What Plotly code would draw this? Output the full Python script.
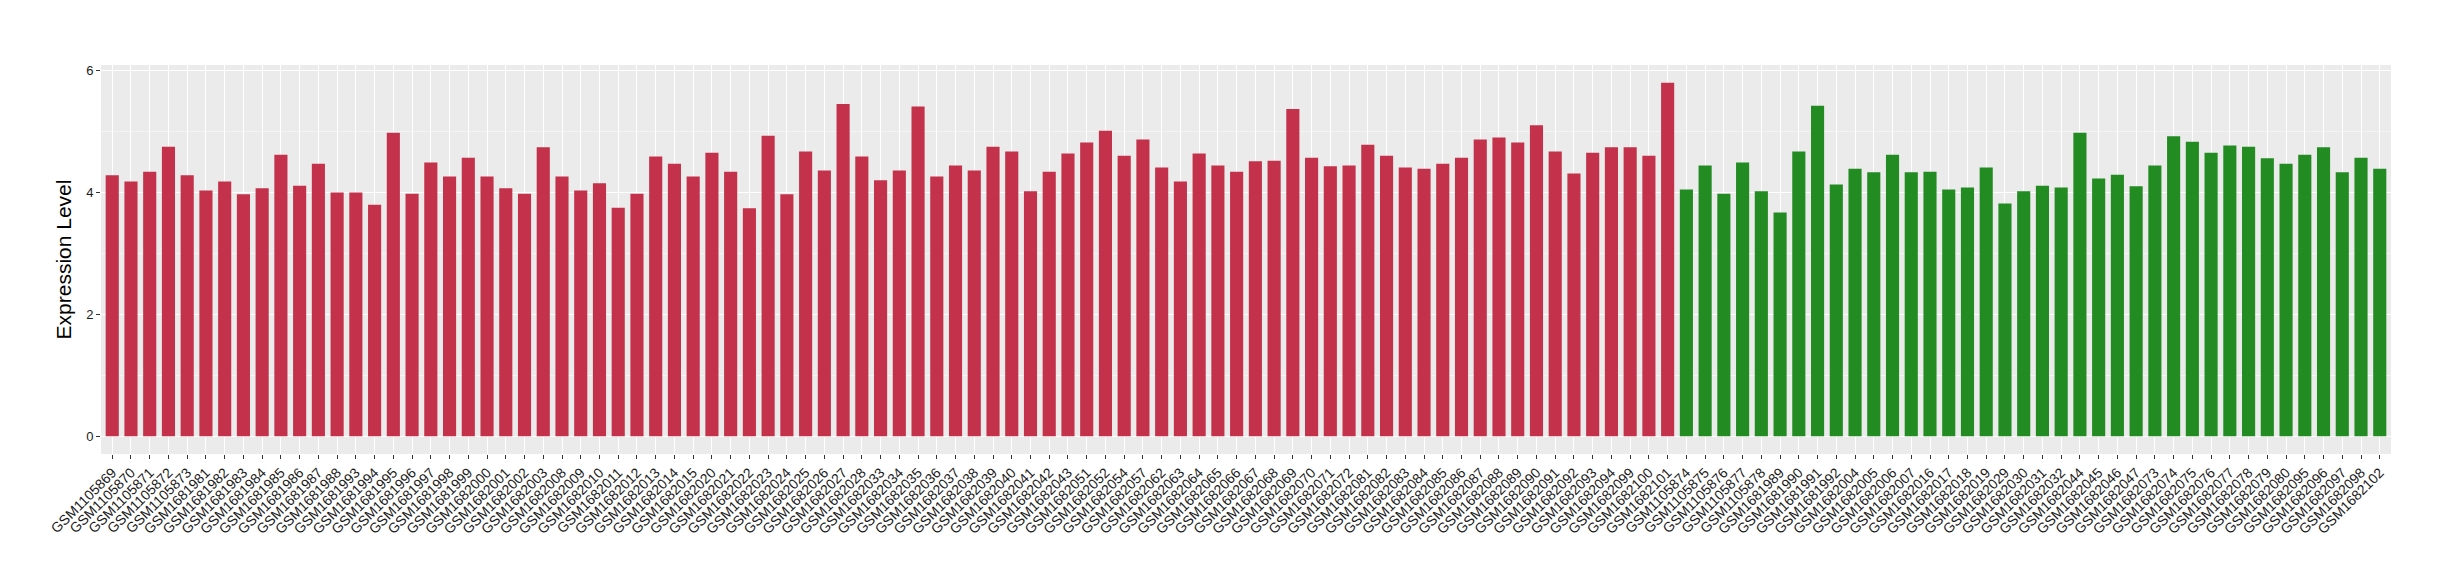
import plotly.graph_objects as go

# Samples of the first group (red) and their expression values
red_samples = [
    "GSM1105869", "GSM1105870", "GSM1105871", "GSM1105872", "GSM1105873",
    "GSM1681981", "GSM1681982", "GSM1681983", "GSM1681984", "GSM1681985",
    "GSM1681986", "GSM1681987", "GSM1681988", "GSM1681993", "GSM1681994",
    "GSM1681995", "GSM1681996", "GSM1681997", "GSM1681998", "GSM1681999",
    "GSM1682000", "GSM1682001", "GSM1682002", "GSM1682003", "GSM1682008",
    "GSM1682009", "GSM1682010", "GSM1682011", "GSM1682012", "GSM1682013",
    "GSM1682014", "GSM1682015", "GSM1682020", "GSM1682021", "GSM1682022",
    "GSM1682023", "GSM1682024", "GSM1682025", "GSM1682026", "GSM1682027",
    "GSM1682028", "GSM1682033", "GSM1682034", "GSM1682035", "GSM1682036",
    "GSM1682037", "GSM1682038", "GSM1682039", "GSM1682040", "GSM1682041",
    "GSM1682042", "GSM1682043", "GSM1682051", "GSM1682052", "GSM1682054",
    "GSM1682057", "GSM1682062", "GSM1682063", "GSM1682064", "GSM1682065",
    "GSM1682066", "GSM1682067", "GSM1682068", "GSM1682069", "GSM1682070",
    "GSM1682071", "GSM1682072", "GSM1682081", "GSM1682082", "GSM1682083",
    "GSM1682084", "GSM1682085", "GSM1682086", "GSM1682087", "GSM1682088",
    "GSM1682089", "GSM1682090", "GSM1682091", "GSM1682092", "GSM1682093",
    "GSM1682094", "GSM1682099", "GSM1682100", "GSM1682101",
]
red_values = [
    4.28, 4.18, 4.34, 4.75, 4.28, 4.03, 4.18, 3.97, 4.07, 4.62,
    4.11, 4.47, 4.00, 4.00, 3.80, 4.98, 3.98, 4.49, 4.26, 4.57,
    4.26, 4.07, 3.98, 4.74, 4.26, 4.03, 4.15, 3.75, 3.98, 4.59,
    4.47, 4.26, 4.65, 4.34, 3.74, 4.93, 3.97, 4.67, 4.36, 5.45,
    4.59, 4.20, 4.36, 5.41, 4.26, 4.44, 4.36, 4.75, 4.67, 4.02,
    4.34, 4.64, 4.82, 5.01, 4.60, 4.87, 4.41, 4.18, 4.64, 4.44,
    4.34, 4.51, 4.52, 5.37, 4.57, 4.43, 4.44, 4.78, 4.60, 4.41,
    4.39, 4.47, 4.57, 4.87, 4.90, 4.82, 5.10, 4.67, 4.31, 4.65,
    4.74, 4.74, 4.60, 5.80,
]

# Samples of the second group (green)
green_samples = [
    "GSM1105874", "GSM1105875", "GSM1105876", "GSM1105877", "GSM1105878",
    "GSM1681989", "GSM1681990", "GSM1681991", "GSM1681992", "GSM1682004",
    "GSM1682005", "GSM1682006", "GSM1682007", "GSM1682016", "GSM1682017",
    "GSM1682018", "GSM1682019", "GSM1682029", "GSM1682030", "GSM1682031",
    "GSM1682032", "GSM1682044", "GSM1682045", "GSM1682046", "GSM1682047",
    "GSM1682073", "GSM1682074", "GSM1682075", "GSM1682076", "GSM1682077",
    "GSM1682078", "GSM1682079", "GSM1682080", "GSM1682095", "GSM1682096",
    "GSM1682097", "GSM1682098", "GSM1682102",
]
green_values = [
    4.05, 4.44, 3.98, 4.49, 4.02, 3.67, 4.67, 5.42, 4.13, 4.39,
    4.33, 4.62, 4.33, 4.34, 4.05, 4.08, 4.41, 3.82, 4.02, 4.11,
    4.08, 4.98, 4.23, 4.29, 4.10, 4.44, 4.92, 4.83, 4.65, 4.77,
    4.75, 4.56, 4.47, 4.62, 4.74, 4.33, 4.57, 4.39,
]

all_samples = red_samples + green_samples

fig = go.Figure()
fig.add_trace(go.Bar(x=red_samples, y=red_values, marker_color="#C3314A",
                     marker_line_width=0, width=0.7, name="group 1"))
fig.add_trace(go.Bar(x=green_samples, y=green_values, marker_color="#228B22",
                     marker_line_width=0, width=0.7, name="group 2"))

fig.update_layout(
    width=2440, height=580,
    barmode="overlay",
    showlegend=False,
    paper_bgcolor="white",
    plot_bgcolor="#EBEBEB",
    margin=dict(l=93, r=57, t=57, b=134),
    font=dict(family="Liberation Sans, Arial, sans-serif", color="#333333"),
)

fig.update_xaxes(
    type="category",
    categoryorder="array", categoryarray=all_samples,
    range=[-0.6, len(all_samples) - 0.4],
    tickangle=-45,
    tickfont=dict(size=14, color="#1a1a1a"),
    ticks="outside", ticklen=4, tickcolor="#333333", tickwidth=1,
    showgrid=True, gridcolor="white", gridwidth=1.1,
    showline=False, zeroline=False,
    automargin=False,
)
fig.update_yaxes(
    title=dict(text="Expression Level", font=dict(size=21, color="black"), standoff=8),
    range=[-0.29, 6.09],
    tickvals=[0, 2, 4, 6],
    tickfont=dict(size=13, color="#1a1a1a"),
    ticks="outside", ticklen=4, tickcolor="#333333", tickwidth=1,
    showgrid=True, gridcolor="white", gridwidth=1.1,
    minor=dict(tickvals=[1, 3, 5], showgrid=True, gridcolor="#F5F5F5", gridwidth=0.6, ticks=""),
    zeroline=False, showline=False,
    automargin=False,
)

fig.write_html("out.html")
